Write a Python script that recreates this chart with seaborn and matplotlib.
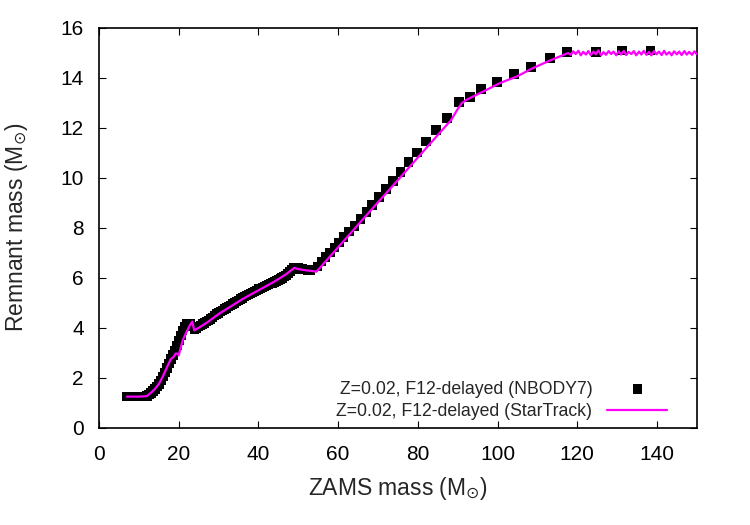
import numpy as np
import pandas as pd
import matplotlib
matplotlib.use("Agg")
import matplotlib.pyplot as plt
import seaborn as sns

# NBODY7 remnant masses (dense low-mass part + sparse high-mass part)
nb_mass = [7, 7.5, 8, 8.5, 9, 9.5, 10, 10.5, 11, 11.5, 12, 12.5, 13, 13.5, 14,
           14.5, 15, 15.5, 16, 16.5, 17, 17.5, 18, 18.5, 19, 19.5, 20, 20.5,
           21, 21.5, 22, 22.5, 23, 23.5, 24, 24.5, 25, 25.5, 26, 26.5, 27, 27.5,
           28, 28.5, 29, 29.5, 30, 30.5, 31, 31.5, 32, 32.5, 33, 33.5, 34, 34.5,
           35, 35.5, 36, 36.5, 37, 37.5, 38, 38.5, 39, 39.5, 40, 40.5, 41, 41.5,
           42, 42.5, 43, 43.5, 44, 44.5, 45, 45.5, 46, 46.5, 47, 47.5, 48, 48.5,
           49, 49.5, 50, 50.5, 51, 51.5, 52, 52.5, 53,
           54.8, 55.8, 56.8, 57.9, 59.1, 60.3, 61.4, 62.8, 64.1, 65.6, 67.1,
           68.5, 70.3, 72.0, 73.8, 75.7, 77.7, 79.8, 82.0, 84.5, 87.3, 90.3,
           93.1, 95.8, 99.8, 104.1, 108.4, 113.1, 117.4, 124.7, 131.2, 138.4]
nb_rem = [1.25, 1.25, 1.25, 1.25, 1.25, 1.25, 1.25, 1.25, 1.25, 1.26, 1.28,
          1.33, 1.4, 1.47, 1.55, 1.65, 1.75, 1.9, 2.05, 2.22, 2.4, 2.57, 2.75,
          2.92, 3.1, 3.3, 3.5, 3.7, 3.9, 4.05, 4.15, 4.17, 4.15, 4.05, 3.95,
          4.0, 4.05, 4.1, 4.15, 4.2, 4.25, 4.3, 4.35, 4.42, 4.5, 4.55, 4.6,
          4.65, 4.7, 4.75, 4.8, 4.85, 4.9, 4.95, 5.0, 5.05, 5.1, 5.15, 5.2, 5.25,
          5.3, 5.34, 5.38, 5.42, 5.46, 5.5, 5.55, 5.58, 5.62, 5.66, 5.7, 5.73,
          5.77, 5.8, 5.84, 5.88, 5.92, 5.96, 6.0, 6.05, 6.1, 6.17, 6.25, 6.33,
          6.4, 6.42, 6.4, 6.38, 6.35, 6.34, 6.33, 6.32, 6.32,
          6.45, 6.65, 6.83, 7.01, 7.21, 7.41, 7.63, 7.85, 8.08, 8.35, 8.63,
          8.92, 9.23, 9.55, 9.88, 10.24, 10.63, 11.01, 11.45, 11.92, 12.4, 13.04,
          13.24, 13.56, 13.84, 14.16, 14.44, 14.8, 15.04, 15.04, 15.1, 15.1]

# StarTrack remnant masses
st_mass = [7, 10, 12, 13, 14, 15, 16, 17, 18, 18.8, 19.2, 19.6, 20, 20.5, 21,
           22, 22.8, 23.4, 23.9, 25, 27, 30, 33, 36, 40, 44, 47, 49, 50, 52,
           54.6, 58, 62, 66, 70, 74, 78, 82, 86, 88.4, 90, 91, 92.2, 96.4,
           100.6, 104.8, 108.9, 113.1, 117.7,
           118.4, 119.0, 119.6, 120.3, 120.9, 121.5, 122.2, 122.8, 123.4, 124.1,
           124.7, 125.3, 126.0, 126.6, 127.2, 127.9, 128.5, 129.1, 129.8, 130.4,
           131.0, 131.7, 132.3, 132.9, 133.6, 134.2, 134.8, 135.5, 136.1, 136.7,
           137.4, 138.0, 138.6, 139.3, 139.9, 140.5, 141.2, 141.8, 142.4, 143.1,
           143.7, 144.3, 145.0, 145.6, 146.2, 146.9, 147.5, 148.1, 148.8, 149.4,
           150.0]
st_rem = [1.25, 1.25, 1.27, 1.4, 1.55, 1.75, 2.05, 2.4, 2.75, 2.85, 2.97, 2.97,
          2.9, 3.2, 3.5, 3.85, 4.1, 4.25, 3.9, 4.0, 4.2, 4.55, 4.85, 5.15, 5.5,
          5.85, 6.15, 6.4, 6.35, 6.3, 6.25, 6.86, 7.58, 8.3, 9.02, 9.73,
          10.45, 11.17, 11.89, 12.32, 12.75, 12.98, 13.12, 13.45, 13.79, 14.05,
          14.39, 14.69, 14.99,
          14.92, 15.06, 14.95, 15.08, 14.9, 15.04, 14.93, 15.07, 14.91, 15.05,
          14.94, 15.1, 14.9, 15.03, 14.92, 15.07, 14.95, 15.05, 14.9, 15.06,
          14.93, 15.08, 14.91, 15.04, 14.95, 15.07, 14.9, 15.05, 14.93, 15.08,
          14.92, 15.04, 14.9, 15.07, 14.94, 15.05, 14.91, 15.08, 14.93, 15.03,
          14.9, 15.06, 14.94, 15.05, 14.91, 15.07, 14.93, 15.04, 14.92, 15.06,
          14.95]

nb = pd.DataFrame({"mass": nb_mass, "rem": nb_rem})
st = pd.DataFrame({"mass": st_mass, "rem": st_rem})

sns.set_style("ticks")
plt.rcParams["font.family"] = ["Liberation Sans", "DejaVu Sans"]
plt.rcParams["mathtext.fontset"] = "dejavusans"

fig = plt.figure(figsize=(7.5, 5.25), dpi=100)
ax = fig.add_axes([0.132, 0.185, 0.797, 0.762])

sns.scatterplot(data=nb, x="mass", y="rem", ax=ax, marker="s", s=48,
                color="black", edgecolor="none", linewidth=0,
                label="Z=0.02, F12-delayed (NBODY7)", zorder=2)
sns.lineplot(data=st, x="mass", y="rem", ax=ax, color="#ff00ff", lw=1.6,
             sort=False, estimator=None,
             label="Z=0.02, F12-delayed (StarTrack)", zorder=3)

ax.set_xlim(0, 150)
ax.set_ylim(0, 16)
ax.set_xticks(np.arange(0, 141, 20))
ax.set_yticks(np.arange(0, 17, 2))
ax.tick_params(direction="in", length=5, width=0.8, top=True, right=True,
               labelsize=15, colors="black", pad=12)
ax.tick_params(axis="y", pad=11)
for sp in ax.spines.values():
    sp.set_visible(True)
    sp.set_linewidth(1.2)
    sp.set_color("black")

ax.set_xlabel(r"ZAMS mass (M$_{\odot}$)", fontsize=16.5, labelpad=8)
ax.set_ylabel(r"Remnant mass (M$_{\odot}$)", fontsize=16.5, labelpad=22)

leg = ax.legend(loc="lower right", frameon=False, markerfirst=False,
                fontsize=12.7, handlelength=3.4, handletextpad=0.85,
                borderaxespad=0, borderpad=0, labelspacing=0.3,
                bbox_to_anchor=(0.951, 0.02))
for t in leg.get_texts():
    t.set_ha("right")

fig.savefig("out.png", dpi=100)
